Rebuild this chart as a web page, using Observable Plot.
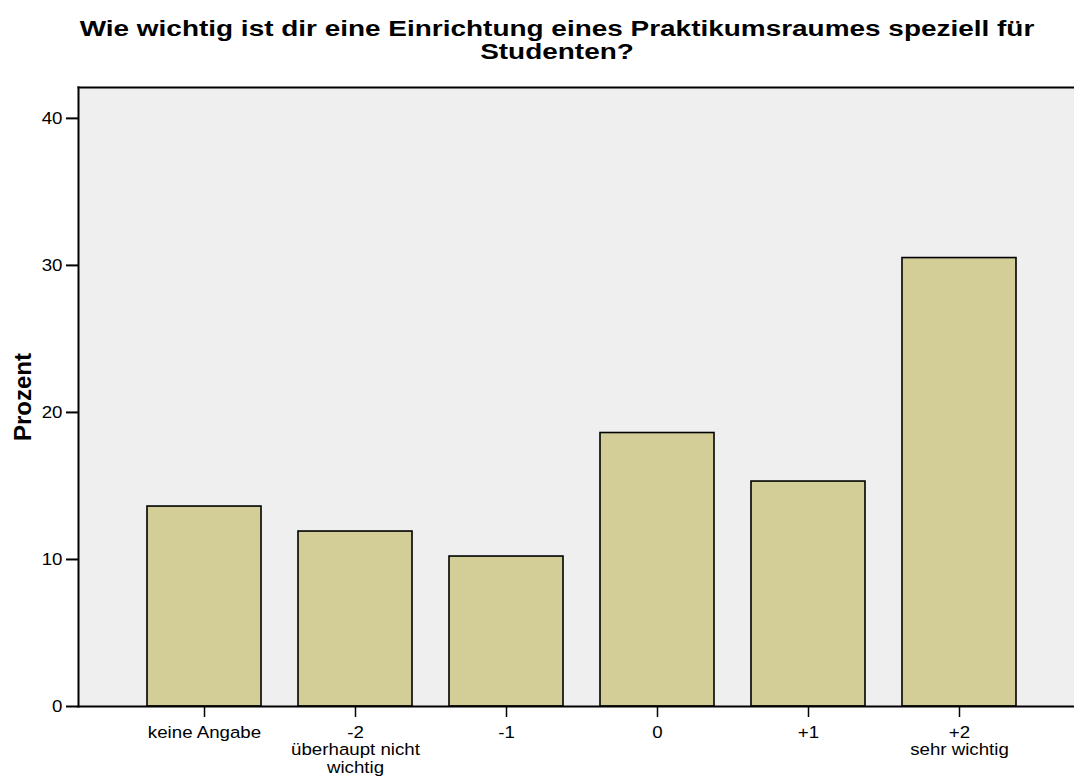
<!DOCTYPE html>
<html>
<head>
<meta charset="utf-8">
<script src="https://cdn.jsdelivr.net/npm/d3@7"></script>
<script src="https://cdn.jsdelivr.net/npm/@observablehq/plot@0.6"></script>
<style>
  html, body { margin: 0; padding: 0; background: #fff; overflow: hidden; }
  body { width: 1074px; height: 778px; font-family: "Liberation Sans", Arial, sans-serif; }
  #title { width: 1074px; height: 72px; box-sizing: border-box; padding-top: 17px; text-align: center;
           font-weight: bold; font-size: 22px; line-height: 23px; color: #000; white-space: nowrap;
           transform-origin: 537px 0; transform: translateX(20px) scaleX(1.27); }
  svg { display: block; }
</style>
</head>
<body>
<div id="title">Wie wichtig ist dir eine Einrichtung eines Praktikumsraumes speziell für<br>Studenten?</div>
<div id="chart"></div>
<script>
const categories = ["keine Angabe", "-2", "-1", "0", "+1", "+2"];
const tickLabels = ["keine Angabe", "-2\nüberhaupt nicht\nwichtig", "-1", "0", "+1", "+2\nsehr wichtig"];
const percents = [13.6, 11.9, 10.2, 18.6, 15.3, 30.5];
const yTicks = [0, 10, 20, 30, 40];
const yLabel = "Prozent";

const data = categories.map((c, i) => ({category: c, value: percents[i]}));
const labelOf = new Map(categories.map((c, i) => [c, tickLabels[i]]));

const chart = Plot.plot({
  width: 1074,
  height: 706,
  marginLeft: 78,
  marginRight: 0,
  marginTop: 15,
  marginBottom: 72,
  style: {fontFamily: "'Liberation Sans', Arial, sans-serif", color: "#000", background: "transparent"},
  x: {domain: categories, range: [78, 1085], paddingInner: 0.245, paddingOuter: 0.457, round: false},
  y: {domain: [0, 42.1]},
  marks: [
    Plot.frame({fill: "#efefef", stroke: null}),
    Plot.barY(data, {x: "category", y: "value", fill: "#d3ce98", stroke: "#000", strokeWidth: 1.6}),
    Plot.frame({anchor: "left", stroke: "#000", strokeWidth: 2}),
    Plot.frame({anchor: "top", stroke: "#000", strokeWidth: 2}),
    Plot.frame({anchor: "bottom", stroke: "#000", strokeWidth: 2}),
    Plot.axisY({ticks: yTicks, tickSize: 12, tickPadding: 4, fontSize: 17, label: null, strokeWidth: 2}),
    Plot.axisX({tickSize: 11, tickPadding: 7.5, fontSize: 17, label: null, tickFormat: d => labelOf.get(d), lineHeight: 1.04, strokeWidth: 1.5}),
    Plot.text([yLabel], {frameAnchor: "left", textAnchor: "middle", rotate: -90, dx: -55, fontWeight: "bold", fontSize: 24, text: d => d})
  ]
});
// slight horizontal stretch of tick labels, as in the reference rendering
d3.select(chart).selectAll('g[aria-label="x-axis tick label"] text, g[aria-label="y-axis tick label"] text')
  .attr("transform", function() { return (this.getAttribute("transform") || "") + " scale(1.1,1)"; });
document.getElementById("chart").appendChild(chart);
</script>
</body>
</html>
